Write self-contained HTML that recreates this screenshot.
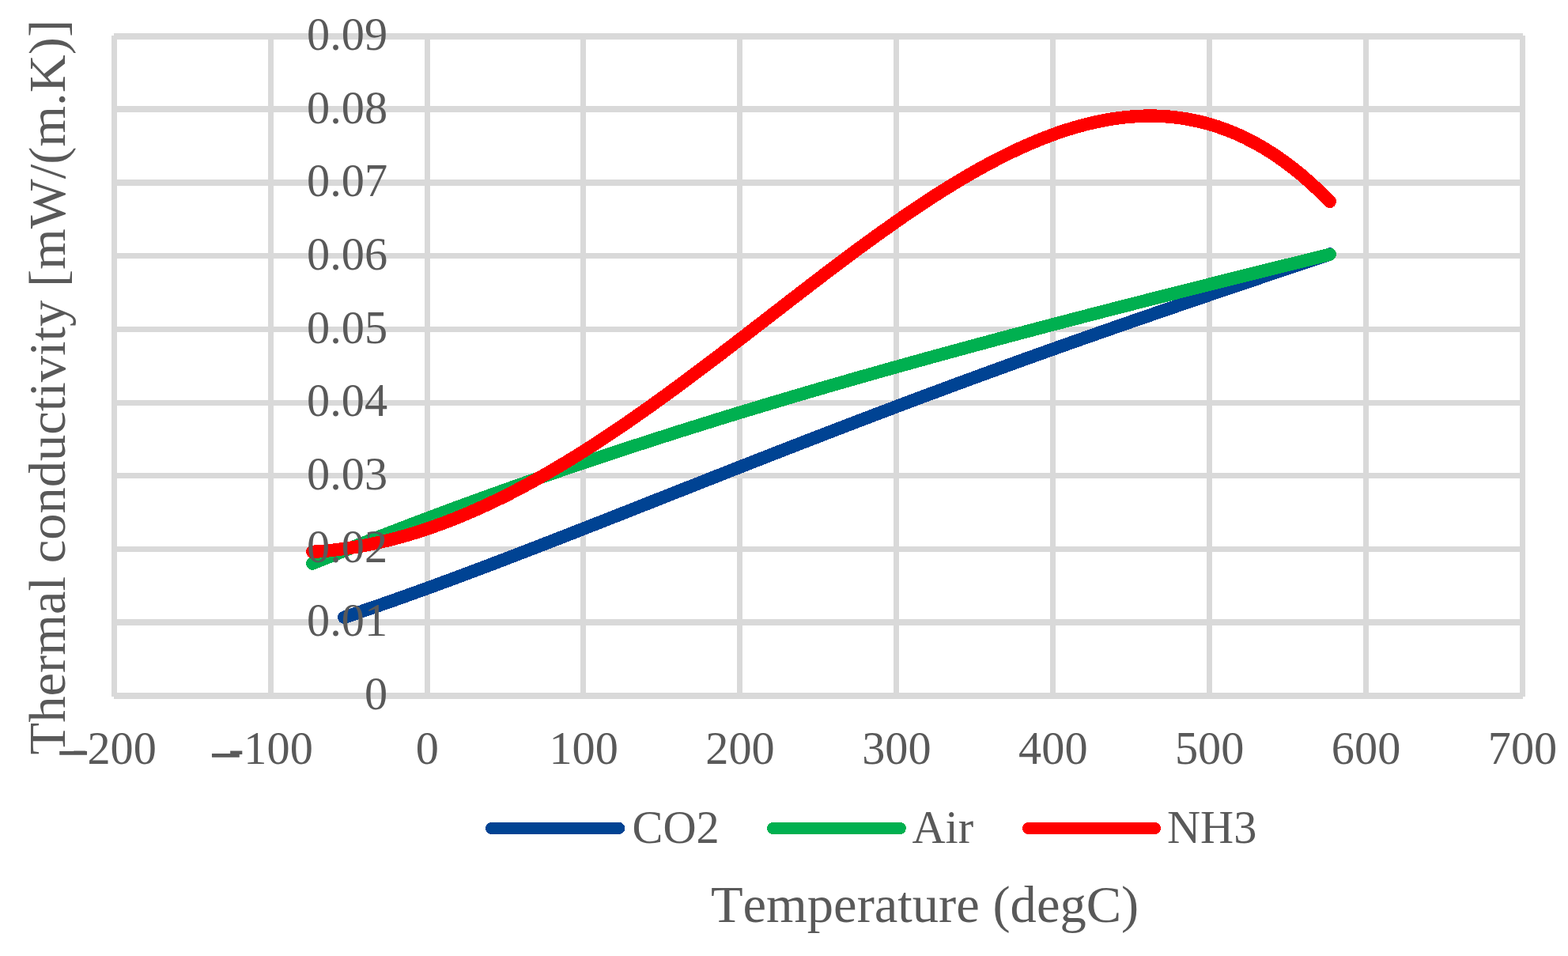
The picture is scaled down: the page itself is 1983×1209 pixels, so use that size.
<!DOCTYPE html>
<html lang="en">
<head>
<meta charset="utf-8">
<title>Thermal conductivity of CO2, Air and NH3 versus temperature</title>
<style>
html,body{margin:0;padding:0;background:#fff;}
body{width:1983px;height:1209px;overflow:hidden;}
svg{display:block;}
text{font-family:"Liberation Serif","DejaVu Serif",serif;fill:#595959;font-kerning:none;font-variant-ligatures:none;}
.tk{font-size:58.33px;}
.tt{font-size:66.55px;}
.ln{fill:none;stroke-width:16.40;stroke-linecap:round;stroke-linejoin:round;}
</style>
</head>
<body>
<svg width="1983" height="1209" viewBox="0 0 1983 1209">
<rect x="0" y="0" width="1983" height="1209" fill="#fff"/>
<g fill="#D9D9D9">
<rect x="144" y="42" width="1782" height="8"/>
<rect x="144" y="134" width="1782" height="8"/>
<rect x="144" y="227" width="1782" height="8"/>
<rect x="144" y="320" width="1782" height="7"/>
<rect x="144" y="413" width="1782" height="7"/>
<rect x="144" y="506" width="1782" height="7"/>
<rect x="144" y="598" width="1782" height="7"/>
<rect x="144" y="691" width="1782" height="7"/>
<rect x="144" y="783" width="1782" height="8"/>
<rect x="144" y="876" width="1782" height="8"/>
<rect x="141" y="45" width="7" height="836"/>
<rect x="339" y="45" width="7" height="836"/>
<rect x="537" y="45" width="7" height="836"/>
<rect x="734" y="45" width="7" height="836"/>
<rect x="932" y="45" width="7" height="836"/>
<rect x="1130" y="45" width="7" height="836"/>
<rect x="1328" y="45" width="7" height="836"/>
<rect x="1526" y="45" width="7" height="836"/>
<rect x="1724" y="45" width="7" height="836"/>
<rect x="1922" y="45" width="7" height="836"/>
</g>
<g class="ln" shape-rendering="crispEdges">
<path stroke="#004393" d="M435.20 780.72C443.19 778.04 451.18 775.33 459.17 772.60C467.16 769.86 475.16 767.09 483.15 764.30C491.14 761.51 499.13 758.69 507.12 755.84C515.11 752.99 523.10 750.12 531.09 747.23C539.08 744.34 547.07 741.42 555.07 738.49C563.06 735.55 571.05 732.59 579.04 729.62C587.03 726.64 595.02 723.65 603.01 720.64C611.00 717.63 618.99 714.61 626.98 711.57C634.98 708.53 642.97 705.47 650.96 702.40C658.95 699.34 666.94 696.26 674.93 693.17C682.92 690.08 690.91 686.98 698.90 683.87C706.89 680.76 714.89 677.64 722.88 674.52C730.87 671.39 738.86 668.26 746.85 665.13C754.84 661.99 762.83 658.85 770.82 655.70C778.81 652.55 786.81 649.40 794.80 646.25C802.79 643.09 810.78 639.94 818.77 636.78C826.76 633.62 834.75 630.46 842.74 627.31C850.73 624.15 858.72 620.99 866.72 617.83C874.71 614.67 882.70 611.52 890.69 608.37C898.68 605.21 906.67 602.06 914.66 598.92C922.65 595.77 930.64 592.62 938.63 589.49C946.63 586.35 954.62 583.21 962.61 580.08C970.60 576.95 978.59 573.83 986.58 570.71C994.57 567.59 1002.56 564.48 1010.55 561.38C1018.54 558.27 1026.54 555.18 1034.53 552.09C1042.52 549.00 1050.51 545.92 1058.50 542.84C1066.49 539.77 1074.48 536.70 1082.47 533.65C1090.46 530.59 1098.46 527.55 1106.45 524.51C1114.44 521.47 1122.43 518.44 1130.42 515.42C1138.41 512.40 1146.40 509.39 1154.39 506.39C1162.38 503.39 1170.37 500.41 1178.37 497.43C1186.36 494.45 1194.35 491.48 1202.34 488.52C1210.33 485.56 1218.32 482.61 1226.31 479.68C1234.30 476.74 1242.29 473.81 1250.28 470.90C1258.28 467.98 1266.27 465.07 1274.26 462.18C1282.25 459.28 1290.24 456.40 1298.23 453.52C1306.22 450.65 1314.21 447.78 1322.20 444.93C1330.19 442.07 1338.19 439.23 1346.18 436.40C1354.17 433.56 1362.16 430.74 1370.15 427.92C1378.14 425.11 1386.13 422.30 1394.12 419.50C1402.11 416.70 1410.11 413.92 1418.10 411.14C1426.09 408.36 1434.08 405.59 1442.07 402.82C1450.06 400.06 1458.05 397.30 1466.04 394.55C1474.03 391.81 1482.02 389.06 1490.02 386.33C1498.01 383.59 1506.00 380.86 1513.99 378.14C1521.98 375.42 1529.97 372.70 1537.96 369.99C1545.95 367.27 1553.94 364.57 1561.93 361.86C1569.93 359.16 1577.92 356.46 1585.91 353.76C1593.90 351.06 1601.89 348.36 1609.88 345.67C1617.87 342.98 1625.86 340.28 1633.85 337.59C1641.84 334.90 1649.84 332.21 1657.83 329.51C1665.82 326.82 1673.81 324.13 1681.80 321.43"/>
<path stroke="#00B050" d="M395.20 712.60C403.14 709.35 411.08 706.12 419.03 702.91C426.97 699.70 434.91 696.51 442.85 693.35C450.79 690.19 458.74 687.04 466.68 683.92C474.62 680.80 482.56 677.70 490.50 674.63C498.45 671.55 506.39 668.49 514.33 665.46C522.27 662.42 530.21 659.41 538.16 656.42C546.10 653.42 554.04 650.45 561.98 647.50C569.92 644.54 577.87 641.61 585.81 638.70C593.75 635.78 601.69 632.89 609.63 630.02C617.58 627.14 625.52 624.29 633.46 621.45C641.40 618.62 649.34 615.80 657.29 613.00C665.23 610.20 673.17 607.42 681.11 604.66C689.05 601.90 697.00 599.15 704.94 596.42C712.88 593.70 720.82 590.99 728.76 588.30C736.70 585.61 744.65 582.93 752.59 580.27C760.53 577.62 768.47 574.98 776.41 572.35C784.36 569.73 792.30 567.12 800.24 564.53C808.18 561.93 816.12 559.36 824.07 556.80C832.01 554.24 839.95 551.69 847.89 549.16C855.83 546.63 863.78 544.12 871.72 541.62C879.66 539.12 887.60 536.63 895.54 534.16C903.49 531.69 911.43 529.24 919.37 526.79C927.31 524.35 935.25 521.92 943.20 519.51C951.14 517.09 959.08 514.69 967.02 512.30C974.96 509.92 982.91 507.54 990.85 505.18C998.79 502.82 1006.73 500.47 1014.67 498.13C1022.62 495.79 1030.56 493.47 1038.50 491.15C1046.44 488.84 1054.38 486.54 1062.33 484.25C1070.27 481.96 1078.21 479.68 1086.15 477.41C1094.09 475.15 1102.04 472.89 1109.98 470.65C1117.92 468.40 1125.86 466.16 1133.80 463.94C1141.75 461.72 1149.69 459.50 1157.63 457.30C1165.57 455.09 1173.51 452.90 1181.46 450.71C1189.40 448.53 1197.34 446.35 1205.28 444.19C1213.22 442.02 1221.17 439.86 1229.11 437.71C1237.05 435.56 1244.99 433.42 1252.93 431.29C1260.88 429.16 1268.82 427.03 1276.76 424.92C1284.70 422.80 1292.64 420.69 1300.59 418.59C1308.53 416.49 1316.47 414.40 1324.41 412.31C1332.35 410.22 1340.30 408.14 1348.24 406.07C1356.18 404.00 1364.12 401.93 1372.06 399.87C1380.00 397.81 1387.95 395.75 1395.89 393.71C1403.83 391.66 1411.77 389.61 1419.71 387.58C1427.66 385.54 1435.60 383.51 1443.54 381.48C1451.48 379.45 1459.42 377.43 1467.37 375.41C1475.31 373.39 1483.25 371.38 1491.19 369.37C1499.13 367.36 1507.08 365.36 1515.02 363.36C1522.96 361.35 1530.90 359.36 1538.84 357.36C1546.79 355.37 1554.73 353.38 1562.67 351.39C1570.61 349.40 1578.55 347.41 1586.50 345.43C1594.44 343.45 1602.38 341.47 1610.32 339.49C1618.26 337.51 1626.21 335.53 1634.15 333.56C1642.09 331.58 1650.03 329.61 1657.97 327.64C1665.92 325.67 1673.86 323.70 1681.80 321.73"/>
<path stroke="#FF0000" d="M395.20 697.89C403.14 697.45 411.08 696.81 419.03 695.98C426.97 695.15 434.91 694.13 442.85 692.91C450.79 691.70 458.74 690.29 466.68 688.70C474.62 687.11 482.56 685.33 490.50 683.37C498.45 681.42 506.39 679.28 514.33 676.97C522.27 674.66 530.21 672.17 538.16 669.51C546.10 666.85 554.04 664.03 561.98 661.04C569.92 658.04 577.87 654.89 585.81 651.58C593.75 648.27 601.69 644.80 609.63 641.18C617.58 637.56 625.52 633.79 633.46 629.88C641.40 625.97 649.34 621.91 657.29 617.72C665.23 613.53 673.17 609.21 681.11 604.75C689.05 600.30 697.00 595.71 704.94 591.01C712.88 586.31 720.82 581.49 728.76 576.56C736.70 571.63 744.65 566.58 752.59 561.44C760.53 556.29 768.47 551.05 776.41 545.71C784.36 540.37 792.30 534.94 800.24 529.42C808.18 523.91 816.12 518.31 824.07 512.64C832.01 506.97 839.95 501.23 847.89 495.42C855.83 489.62 863.78 483.75 871.72 477.83C879.66 471.91 887.60 465.95 895.54 459.94C903.49 453.93 911.43 447.88 919.37 441.80C927.31 435.72 935.25 429.62 943.20 423.49C951.14 417.37 959.08 411.23 967.02 405.09C974.96 398.95 982.91 392.80 990.85 386.66C998.79 380.52 1006.73 374.39 1014.67 368.28C1022.62 362.17 1030.56 356.09 1038.50 350.04C1046.44 343.99 1054.38 337.97 1062.33 332.00C1070.27 326.04 1078.21 320.12 1086.15 314.26C1094.09 308.41 1102.04 302.62 1109.98 296.90C1117.92 291.19 1125.86 285.55 1133.80 280.01C1141.75 274.47 1149.69 269.02 1157.63 263.67C1165.57 258.33 1173.51 253.10 1181.46 247.99C1189.40 242.88 1197.34 237.89 1205.28 233.04C1213.22 228.20 1221.17 223.49 1229.11 218.94C1237.05 214.39 1244.99 209.99 1252.93 205.77C1260.88 201.55 1268.82 197.50 1276.76 193.64C1284.70 189.79 1292.64 186.12 1300.59 182.66C1308.53 179.20 1316.47 175.95 1324.41 172.92C1332.35 169.89 1340.30 167.09 1348.24 164.54C1356.18 161.98 1364.12 159.67 1372.06 157.62C1380.00 155.57 1387.95 153.78 1395.89 152.27C1403.83 150.77 1411.77 149.55 1419.71 148.62C1427.66 147.70 1435.60 147.08 1443.54 146.78C1451.48 146.48 1459.42 146.50 1467.37 146.86C1475.31 147.22 1483.25 147.93 1491.19 148.99C1499.13 150.05 1507.08 151.48 1515.02 153.29C1522.96 155.10 1530.90 157.29 1538.84 159.88C1546.79 162.48 1554.73 165.48 1562.67 168.90C1570.61 172.32 1578.55 176.17 1586.50 180.47C1594.44 184.77 1602.38 189.51 1610.32 194.72C1618.26 199.94 1626.21 205.62 1634.15 211.80C1642.09 217.97 1650.03 224.64 1657.97 231.83C1665.92 239.01 1673.86 246.71 1681.80 254.95"/>
</g>
<g class="tk" text-anchor="end">
<text x="490.2" y="897.1">0</text>
<text x="490.2" y="804.1">0.01</text>
<text x="490.2" y="711.1">0.02</text>
<text x="490.2" y="619.1">0.03</text>
<text x="490.2" y="526.1">0.04</text>
<text x="490.2" y="433.6">0.05</text>
<text x="490.2" y="341.1">0.06</text>
<text x="490.2" y="248.1">0.07</text>
<text x="490.2" y="156.1">0.08</text>
<text x="490.2" y="63.1">0.09</text>
</g>
<g class="tk" text-anchor="middle">
<text x="144.46" y="966.1">-200</text>
<text x="342.35" y="966.1">-100</text>
<text x="540.25" y="966.1">0</text>
<text x="738.14" y="966.1">100</text>
<text x="936.03" y="966.1">200</text>
<text x="1133.93" y="966.1">300</text>
<text x="1331.82" y="966.1">400</text>
<text x="1529.71" y="966.1">500</text>
<text x="1727.61" y="966.1">600</text>
<text x="1925.50" y="966.1">700</text>
</g>
<text class="tk" transform="matrix(1.2822 0 0 1.6351 71.375 984.143)" x="0" y="0">−</text>
<text class="tk" transform="matrix(1.2822 0 0 1.6351 264.325 987.043)" x="0" y="0">−</text>
<rect x="613.9" y="1040" width="176.5" height="15" rx="7.5" ry="7.5" fill="#004393" shape-rendering="crispEdges"/>
<text class="tk" x="799.5" y="1065.6">CO2</text>
<rect x="969.9" y="1040" width="176.0" height="15" rx="7.5" ry="7.5" fill="#00B050" shape-rendering="crispEdges"/>
<text class="tk" x="1153.5" y="1065.6">Air</text>
<rect x="1292.9" y="1040" width="175.2" height="15" rx="7.5" ry="7.5" fill="#FF0000" shape-rendering="crispEdges"/>
<text class="tk" x="1476.0" y="1065.6">NH3</text>
<text class="tt" x="898.9" y="1166.3">Temperature (degC)</text>
<text class="tt" transform="translate(81.6,954.4) rotate(-90)" x="0" y="0">Thermal conductivity [mW/(m.K)]</text>
</svg>
</body>
</html>
